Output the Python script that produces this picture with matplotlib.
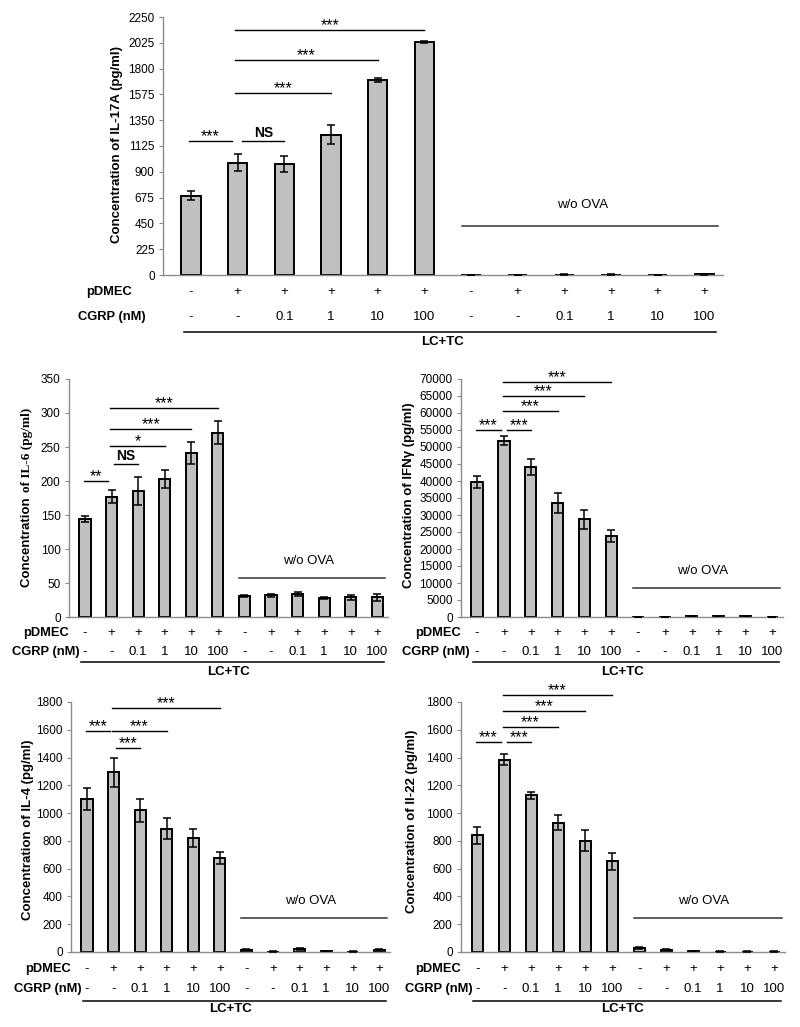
import matplotlib.pyplot as plt
import numpy as np
from matplotlib.transforms import ScaledTranslation

plt.rcParams['font.family'] = ['Liberation Sans', 'DejaVu Sans']

pdmec = ['-', '+', '+', '+', '+', '+', '-', '+', '+', '+', '+', '+']
cgrp = ['-', '-', '0.1', '1', '10', '100', '-', '-', '0.1', '1', '10', '100']

il17 = [690, 980, 965, 1225, 1700, 2035, 3, 2, 4, 4, 3, 5]
il17_err = [40, 75, 70, 80, 15, 10, 1, 1, 1, 1, 1, 1]
il17_sig = [(0, 1, 1168, '***'), (1, 2, 1168, 'NS'), (1, 3, 1587, '***'),
            (1, 4, 1875, '***'), (1, 5, 2136, '***')]

il6 = [144, 177, 185, 203, 241, 271, 31, 32, 34, 28, 29, 29]
il6_err = [5, 10, 21, 13, 16, 17, 2, 2, 3, 1, 4, 5]
il6_sig = [(0, 1, 200, '**'), (1, 2, 225, 'NS'), (1, 3, 251, '*'),
           (1, 4, 276, '***'), (1, 5, 307, '***')]

ifng = [39800, 51800, 44200, 33500, 28700, 23900, 0, 0, 200, 150, 250, 0]
ifng_err = [1800, 1300, 2300, 2900, 2800, 1700, 0, 0, 0, 0, 0, 0]
ifng_sig = [(0, 1, 55000, '***'), (1, 2, 55000, '***'), (1, 3, 60600, '***'),
            (1, 4, 65000, '***'), (1, 5, 69100, '***')]

il4 = [1100, 1295, 1020, 888, 818, 678, 15, 3, 20, 5, 3, 18]
il4_err = [80, 105, 85, 75, 65, 45, 4, 1, 8, 1, 1, 3]
il4_sig = [(0, 1, 1591, '***'), (1, 2, 1469, '***'), (1, 3, 1591, '***'),
           (1, 5, 1757, '***')]

il22 = [840, 1385, 1128, 930, 800, 652, 28, 18, 5, 3, 3, 3]
il22_err = [60, 40, 25, 55, 75, 60, 5, 3, 1, 1, 1, 1]
il22_sig = [(0, 1, 1512, '***'), (1, 2, 1512, '***'), (1, 3, 1620, '***'),
            (1, 4, 1735, '***'), (1, 5, 1850, '***')]

W, H = 800, 1027
fig = plt.figure(figsize=(W / 100, H / 100), dpi=100)


def px_rect(x0, y0, x1, y1):
    # pixel box (top-left origin) -> figure fraction
    return [x0 / W, 1 - y1 / H, (x1 - x0) / W, (y1 - y0) / H]


def shift(base, dx, dy):
    return base + ScaledTranslation(dx / 100, -dy / 100, fig.dpi_scale_trans)


def panel(box, means, errs, sig, ymax, ystep, wo_level, rows, top=False):
    ax = fig.add_axes(px_rect(*box))
    x = np.arange(len(means))
    ax.bar(x, means, width=0.42, color='#c0c0c0', edgecolor='black',
           linewidth=1.4, zorder=2)
    ax.errorbar(x, means, yerr=errs, fmt='none', ecolor='black',
                elinewidth=1.1, capsize=3, capthick=1.1, zorder=3)
    ax.set_xlim(-0.6, 11.4)
    ax.set_ylim(0, ymax)
    ax.set_yticks(np.arange(0, ymax + 1, ystep))
    ax.set_xticks([])
    ax.tick_params(axis='y', length=3, width=0.8, color='#888888',
                   labelsize=8.5, pad=3)
    for s in ['top', 'right']:
        ax.spines[s].set_visible(False)
    for s in ['left', 'bottom']:
        ax.spines[s].set_color('#8c8c8c')
        ax.spines[s].set_linewidth(1)

    for i, j, lev, lab in sig:
        x0 = i + (0.1 if (j - i == 1 and i > 0) else -0.05)
        x1 = j - (0.12 if i == 0 else 0.0)
        ax.plot([x0, x1], [lev, lev], color='black', lw=1, clip_on=False)
        if lab == 'NS':
            ax.annotate(lab, xy=((x0 + x1) / 2, lev), xytext=(0, 1),
                        textcoords='offset pixels', ha='center', va='bottom',
                        fontsize=10, fontweight='bold', annotation_clip=False)
        else:
            ax.annotate(lab, xy=((x0 + x1) / 2, lev), xytext=(0, -3),
                        textcoords='offset pixels', ha='center', va='bottom',
                        fontsize=11.5, annotation_clip=False)

    # w/o OVA group
    ax.plot([5.8, 11.3], [wo_level, wo_level], color='#333333', lw=1.1,
            clip_on=False)
    ax.annotate('w/o OVA', xy=(8.4, wo_level), xytext=(0, 17 if not top else 21),
                textcoords='offset pixels', ha='center', va='center',
                fontsize=9.5, annotation_clip=False)

    # treatment table below the axis
    d_pd, d_cg, d_line, d_lc, lab_pd, lab_cg = rows
    xt = ax.get_xaxis_transform()
    for k in range(len(means)):
        ax.text(k, 0, pdmec[k], transform=shift(xt, 0, d_pd), ha='center',
                va='center', fontsize=9.5)
        ax.text(k, 0, cgrp[k], transform=shift(xt, 0, d_cg), ha='center',
                va='center', fontsize=9.5)
    ax.text(0, 0, 'pDMEC', transform=shift(ax.transAxes, lab_pd, d_pd),
            ha='right', va='center', fontsize=9.3, fontweight='bold')
    ax.text(0, 0, 'CGRP (nM)', transform=shift(ax.transAxes, lab_cg, d_cg),
            ha='right', va='center', fontsize=9.3, fontweight='bold')
    ax.plot([-0.15, 11.25], [0, 0], transform=shift(xt, 0, d_line),
            color='black', lw=1.1, clip_on=False)
    ax.text(5.4, 0, 'LC+TC', transform=shift(xt, 0, d_lc), ha='center',
            va='center', fontsize=9.5, fontweight='bold')
    return ax


def ylab(xp, yp, text):
    fig.text(xp / W, 1 - yp / H, text, rotation=90, ha='center', va='center',
             fontsize=9.5, fontweight='bold')


panel((163, 17, 723, 275), il17, il17_err, il17_sig, 2250, 225, 427,
      (17, 42, 57, 67, -31, -17), top=True)
ylab(117, 144, 'Concentration of IL-17A (pg/ml)')

panel((69, 379, 388, 617), il6, il6_err, il6_sig, 350, 50, 57,
      (16, 35, 45, 55, 0, 11))
# IL-6 label mixes a sans and a serif part
t1 = fig.text(27 / W, 1 - 587 / H, 'Concentration ', rotation=90,
              ha='center', va='bottom', fontsize=9.5, fontweight='bold')
fig.canvas.draw()
bb = t1.get_window_extent()
fig.text(27 / W, bb.y1 / H + 0.002, 'of IL-6 (pg/ml)', rotation=90,
         ha='center', va='bottom', fontsize=9.5, fontweight='bold',
         family=['Liberation Serif', 'DejaVu Serif'])

panel((461, 379, 783, 617), ifng, ifng_err, ifng_sig, 70000, 5000, 8500,
      (16, 35, 45, 55, 0, 9))
ylab(409, 495, 'Concentration of IFNγ (pg/ml)')

panel((71, 702, 390, 952), il4, il4_err, il4_sig, 1800, 200, 245,
      (17, 37, 49, 57, 0, 11))
ylab(28, 830, 'Concentration of IL-4 (pg/ml)')

panel((461, 702, 785, 952), il22, il22_err, il22_sig, 1800, 200, 245,
      (17, 37, 49, 57, 0, 12))
ylab(412, 821, 'Concentration of Il-22 (pg/ml)')

fig.savefig('out.png', dpi=100)
